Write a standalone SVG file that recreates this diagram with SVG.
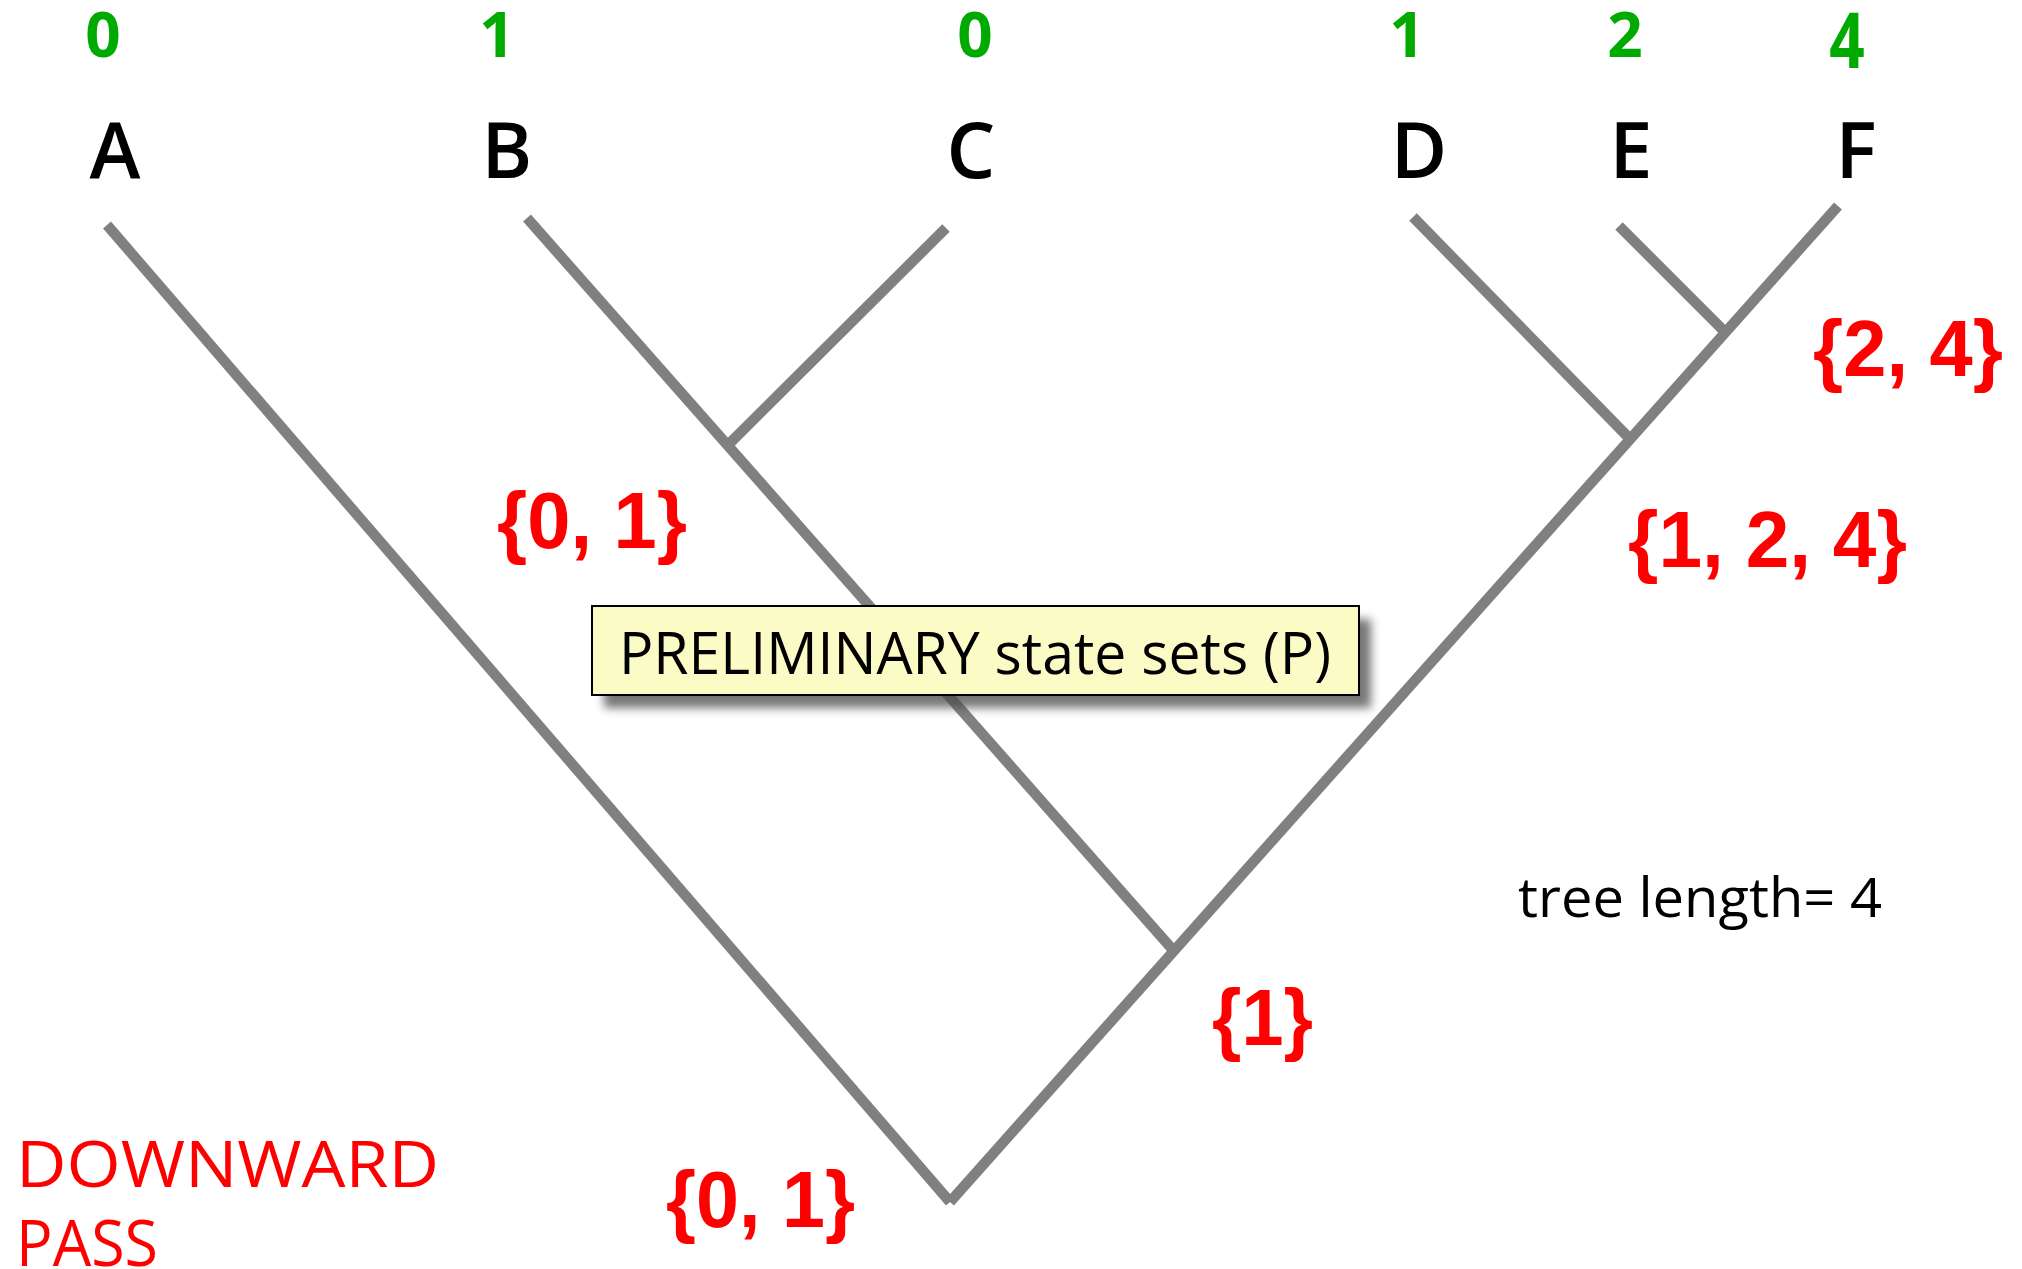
<svg xmlns="http://www.w3.org/2000/svg" width="2022" height="1269" viewBox="0 0 2022 1269">
  <defs>
    <style>
      .branch { stroke: #808080; stroke-width: 10.5; stroke-linecap: butt; fill: none; }
      .state { font-family: "Open Sans", "Liberation Sans", sans-serif; font-weight: bold; font-size: 62px; fill: #00aa00; text-anchor: middle; }
      .taxon { font-family: "Open Sans", "Liberation Sans", sans-serif; font-weight: 600; font-size: 77px; fill: #000000; text-anchor: middle; }
      .pset { font-family: "Liberation Sans", Arial, sans-serif; font-weight: bold; font-size: 79px; fill: #ff0000; }
      .title { font-family: "Open Sans", "Liberation Sans", sans-serif; font-weight: 500; font-size: 64px; fill: #ff0000; }
      .note { font-family: "Open Sans", "Liberation Sans", sans-serif; font-size: 54px; fill: #000000; }
      .boxtext { font-family: "Open Sans", "Liberation Sans", sans-serif; font-size: 58px; fill: #000000; }
    </style>
    <filter id="softShadow" x="-10%" y="-30%" width="120%" height="160%">
      <feGaussianBlur stdDeviation="5"/>
    </filter>
  </defs>

  <rect width="2022" height="1269" fill="#ffffff"/>

  <!-- tree branches -->
  <g id="connectors">
    <line class="branch" x1="107" y1="225" x2="950" y2="1202"/>
    <line class="branch" x1="1838" y1="206" x2="950" y2="1202"/>
    <line class="branch" x1="527" y1="218" x2="1173" y2="950"/>
    <line class="branch" x1="946" y1="228" x2="729" y2="444"/>
    <line class="branch" x1="1413" y1="217" x2="1631" y2="440"/>
    <line class="branch" x1="1619" y1="226" x2="1727" y2="334"/>
  </g>

  <!-- leaves: observed state above taxon name -->
  <g id="leaf-A">
    <text class="state" x="103" y="57">0</text>
    <text class="taxon" x="115" y="178">A</text>
  </g>
  <g id="leaf-B">
    <text class="state" x="497" y="57">1</text>
    <text class="taxon" x="507" y="178">B</text>
  </g>
  <g id="leaf-C">
    <text class="state" x="975" y="57">0</text>
    <text class="taxon" x="971" y="178">C</text>
  </g>
  <g id="leaf-D">
    <text class="state" x="1407" y="57">1</text>
    <text class="taxon" x="1419" y="178">D</text>
  </g>
  <g id="leaf-E">
    <text class="state" x="1625" y="57">2</text>
    <text class="taxon" x="1631" y="178">E</text>
  </g>
  <g id="leaf-F">
    <text class="state" x="1847" y="57" transform="translate(1847 13) scale(1 1.25) translate(-1847 -13)">4</text>
    <text class="taxon" x="1856" y="178">F</text>
  </g>

  <!-- internal nodes: preliminary state sets -->
  <g id="node-BC">
    <text class="pset" x="497" y="548" textLength="190" lengthAdjust="spacingAndGlyphs">{0, 1}</text>
  </g>
  <g id="node-EF">
    <text class="pset" x="1813" y="376" textLength="190" lengthAdjust="spacingAndGlyphs">{2, 4}</text>
  </g>
  <g id="node-DEF">
    <text class="pset" x="1628" y="567" textLength="279" lengthAdjust="spacingAndGlyphs">{1, 2, 4}</text>
  </g>
  <g id="node-BCDEF">
    <text class="pset" x="1212" y="1045" textLength="101" lengthAdjust="spacingAndGlyphs">{1}</text>
  </g>
  <g id="node-root">
    <text class="pset" x="666" y="1227" textLength="189" lengthAdjust="spacingAndGlyphs">{0, 1}</text>
  </g>

  <!-- caption box -->
  <g id="caption">
    <rect x="604" y="619" width="767" height="89" fill="#4a4a4a" opacity="0.75" filter="url(#softShadow)"/>
    <rect x="592" y="606" width="767" height="89" fill="#fbfbc6" stroke="#000000" stroke-width="2"/>
    <text class="boxtext" x="619" y="674" textLength="712" lengthAdjust="spacingAndGlyphs">PRELIMINARY state sets (P)</text>
  </g>

  <g id="tree-length">
    <text class="note" x="1518" y="917" textLength="364" lengthAdjust="spacingAndGlyphs">tree length= 4</text>
  </g>

  <g id="pass-title">
    <text class="title" x="16" y="1187" textLength="423" lengthAdjust="spacingAndGlyphs">DOWNWARD</text>
    <text class="title" x="16" y="1266" textLength="142" lengthAdjust="spacingAndGlyphs">PASS</text>
  </g>
</svg>
